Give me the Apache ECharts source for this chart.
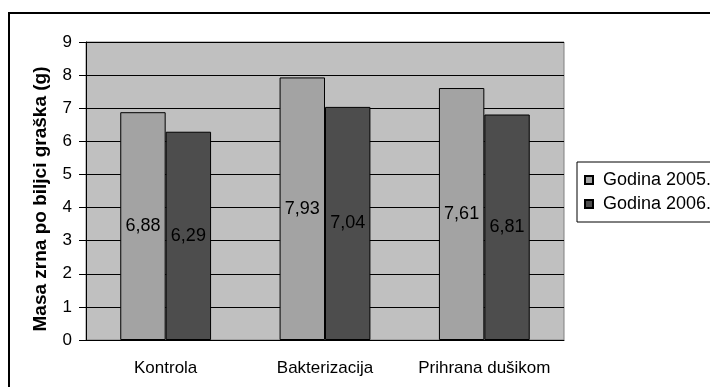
<!DOCTYPE html>
<html><head><meta charset="utf-8">
<script src="https://cdn.jsdelivr.net/npm/echarts@6/dist/echarts.min.js"></script>
<style>html,body{margin:0;padding:0;background:#fff;}#c{width:710px;height:387px;}</style>
</head><body><div id="c"></div>
<script>
var categories = ['Kontrola', 'Bakterizacija', 'Prihrana dušikom'];
var series2005 = [6.88, 7.93, 7.61];
var series2006 = [6.29, 7.04, 6.81];
var seriesNames = ['Godina 2005.', 'Godina 2006.'];
var yTicks = [0, 1, 2, 3, 4, 5, 6, 7, 8, 9];
var yTitle = 'Masa zrna po biljci graška (g)';

var FONT = 'Liberation Sans, Arial, sans-serif';
var chart = echarts.init(document.getElementById('c'), null, {renderer: 'canvas'});
function lbl(v){ return v.toFixed(2).replace('.', ','); }
var labelCfg = {show: true, position: 'inside', color: '#000', fontFamily: FONT, fontSize: 18,
  formatter: function(p){ return lbl(p.value); }};
chart.setOption({
  animation: false,
  grid: {left: 86, right: 146, top: 42, bottom: 47, show: true, backgroundColor: '#C0C0C0', borderColor: '#808080', borderWidth: 1},
  graphic: [
    {type: 'rect', shape: {x: 9, y: 13, width: 720, height: 400}, style: {fill: 'none', stroke: '#000', lineWidth: 2}, z: -1},
    {type: 'text', x: 41, y: 199, rotation: Math.PI / 2,
     style: {text: yTitle, fontFamily: FONT, fontSize: 19, fontWeight: 'bold', fill: '#000', align: 'center', verticalAlign: 'middle'}}
  ],
  legend: {orient: 'vertical', left: 577, top: 162, padding: [9, 20, 9, 7], borderColor: '#000', borderWidth: 1,
    itemWidth: 8, itemHeight: 8, itemGap: 6, icon: 'rect',
    textStyle: {fontFamily: FONT, fontSize: 18, color: '#000', lineHeight: 18, padding: [0, 0, 0, 5]},
    data: seriesNames},
  xAxis: {type: 'category', data: categories,
    axisLine: {lineStyle: {color: '#000'}}, axisTick: {length: 5, lineStyle: {color: '#000'}},
    axisLabel: {interval: 0, color: '#000', fontFamily: FONT, fontSize: 17, margin: 20}},
  yAxis: {type: 'value', min: 0, max: 9, interval: 1,
    axisLine: {show: true, lineStyle: {color: '#000'}}, axisTick: {show: true, length: 7, lineStyle: {color: '#000'}},
    axisLabel: {color: '#000', fontFamily: FONT, fontSize: 17, margin: 14, formatter: function(v){ return yTicks.indexOf(v) >= 0 ? String(v) : ''; }},
    splitLine: {show: true, lineStyle: {color: '#000', width: 1}}},
  series: [
    {name: seriesNames[0], type: 'bar', data: series2005, barGap: '0%', barCategoryGap: '43%',
     itemStyle: {color: '#A3A3A3', borderColor: '#000', borderWidth: 1}, label: labelCfg},
    {name: seriesNames[1], type: 'bar', data: series2006, barGap: '0%', barCategoryGap: '43%',
     itemStyle: {color: '#4D4D4D', borderColor: '#000', borderWidth: 1}, label: labelCfg}
  ]
});
</script></body></html>
